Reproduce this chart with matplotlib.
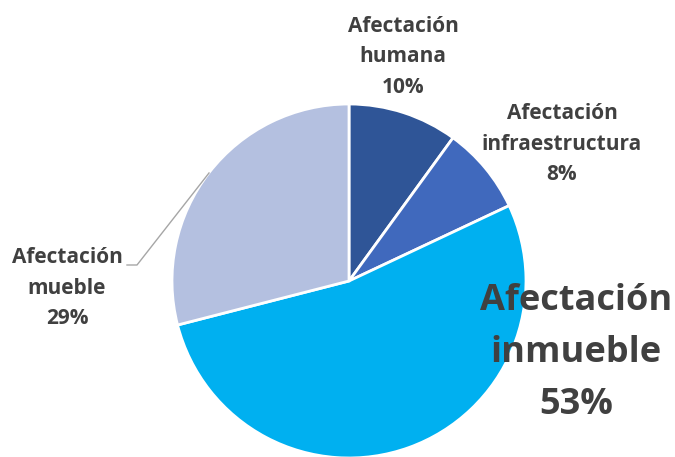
import matplotlib.pyplot as plt

# Data
labels = ['Afectación\nhumana', 'Afectación\ninfraestructura', 'Afectación\ninmueble', 'Afectación\nmueble']
values = [10, 8, 53, 29]
colors = ['#2F5597', '#4069BD', '#00B0F0', '#B4C0E0']

plt.rcParams['font.family'] = ['Open Sans', 'DejaVu Sans']

fig = plt.figure(figsize=(6.75, 4.57), dpi=100)
ax = fig.add_axes([0, 0, 1, 1])

# pie in pixel space (y measured from bottom)
cx, cy, r = 349, 457 - 281, 177
ax.pie(values, colors=colors, startangle=90, counterclock=False,
       center=(cx, cy), radius=r, frame=True,
       wedgeprops=dict(edgecolor='white', linewidth=2))
ax.set_xlim(0, 675)
ax.set_ylim(0, 457)
ax.set_aspect('equal')
ax.axis('off')

txt = '#404040'
small = dict(ha='center', va='center', fontsize=15, fontweight='bold',
             color=txt, linespacing=1.62)
ax.text(403, 457 - 57, labels[0] + '\n%d%%' % values[0], **small)
ax.text(562, 457 - 144, labels[1] + '\n%d%%' % values[1], **small)
ax.text(67, 457 - 288, labels[3] + '\n%d%%' % values[3], **small)
ax.text(576, 457 - 353, labels[2] + '\n%d%%' % values[2], ha='center', va='center',
        fontsize=26, fontweight='bold', color=txt, linespacing=1.6)

# leader line for mueble
ax.plot([127, 137, 209], [457 - 265, 457 - 265, 457 - 173], color='#A6A6A6', lw=1)

fig.savefig('out.png', dpi=100)
